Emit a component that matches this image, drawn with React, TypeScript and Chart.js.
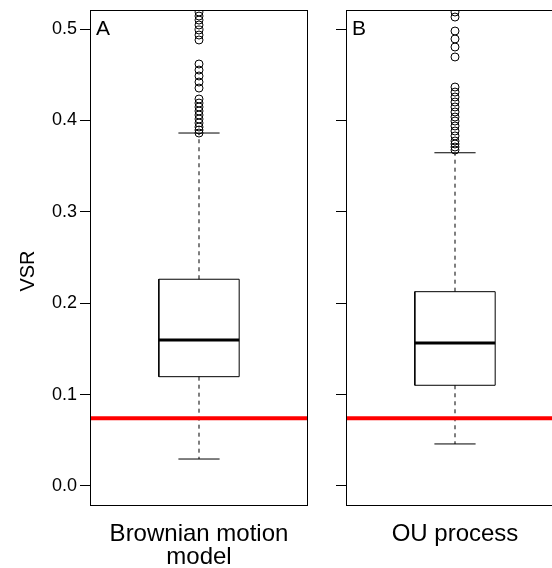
import React, { useEffect, useRef } from 'react';
import { Chart, registerables } from 'chart.js';
Chart.register(...registerables);

// ---- data ----
const panelLetters = ['A', 'B'];
const categoryLabels = [['Brownian motion', 'model'], ['OU process']];
const yAxisTitle = 'VSR';
const whiskerLow = [0.0295, 0.046];
const q1Values = [0.1196, 0.1102];
const medianValues = [0.1597, 0.1565];
const q3Values = [0.2262, 0.2126];
const whiskerHigh = [0.3862, 0.3646];
const outliersBrownian = [
  0.5186, 0.5142, 0.5098, 0.5044, 0.4989, 0.4934, 0.488,
  0.4617, 0.4551, 0.4486, 0.442, 0.4354,
  0.4234, 0.419, 0.4147, 0.4103, 0.4059, 0.4015, 0.3972, 0.3928, 0.3895, 0.3862,
];
const outliersOU = [
  0.5186, 0.5131, 0.4978, 0.4891, 0.4803, 0.4694,
  0.4365, 0.431, 0.4256, 0.4201, 0.4147, 0.4092, 0.4037, 0.3993, 0.3939, 0.3884,
  0.383, 0.3775, 0.3742, 0.3709, 0.3676,
];
const outlierSets = [outliersBrownian, outliersOU];
const referenceVSR = 0.074;
const yTicks = [0, 0.1, 0.2, 0.3, 0.4, 0.5];
const yMin = -0.0219;
const yMax = 0.5208;

// ---- style constants ----
const FONT = "'Liberation Sans', Arial, Helvetica, sans-serif";
const CENTER = 0.5;
const BOX_HALF = 0.1843;
const CAP_HALF = 0.0945;
const CANVAS_W = 313;

const zeroPadding = (s: any) => {
  s.paddingTop = 0;
  s.paddingBottom = 0;
  s.paddingLeft = 0;
  s.paddingRight = 0;
};

function buildConfig(idx: number): any {
  const q1 = q1Values[idx];
  const q3 = q3Values[idx];
  const med = medianValues[idx];
  const lo = whiskerLow[idx];
  const hi = whiskerHigh[idx];
  const line = (data: any[], extra: any = {}) => ({
    type: 'line',
    data,
    showLine: true,
    pointRadius: 0,
    borderColor: '#000',
    borderWidth: 1,
    fill: false,
    ...extra,
  });
  const datasets = [
    line(
      [
        { x: 0, y: referenceVSR },
        { x: 1, y: referenceVSR },
      ],
      { borderColor: '#ff0000', borderWidth: 4 }
    ),
    {
      type: 'scatter',
      data: outlierSets[idx].map((v) => ({ x: CENTER, y: v })),
      pointRadius: 4,
      pointStyle: 'circle',
      borderColor: '#000',
      borderWidth: 1,
      backgroundColor: 'rgba(0,0,0,0)',
      showLine: false,
    },
    line(
      [
        { x: CENTER - BOX_HALF, y: med },
        { x: CENTER + BOX_HALF, y: med },
      ],
      { borderWidth: 3 }
    ),
    line([
      { x: CENTER - BOX_HALF, y: q1 },
      { x: CENTER + BOX_HALF, y: q1 },
      { x: CENTER + BOX_HALF, y: q3 },
      { x: CENTER - BOX_HALF, y: q3 },
      { x: CENTER - BOX_HALF, y: q1 },
    ]),
    line(
      [
        { x: CENTER, y: q3 },
        { x: CENTER, y: hi },
      ],
      { borderDash: [4, 4] }
    ),
    line(
      [
        { x: CENTER, y: q1 },
        { x: CENTER, y: lo },
      ],
      { borderDash: [4, 4] }
    ),
    line([
      { x: CENTER - CAP_HALF, y: hi },
      { x: CENTER + CAP_HALF, y: hi },
    ]),
    line([
      { x: CENTER - CAP_HALF, y: lo },
      { x: CENTER + CAP_HALF, y: lo },
    ]),
  ];

  const framePlugin = {
    id: 'frame' + idx,
    afterDraw(chart: any) {
      const { ctx, chartArea } = chart;
      const { left, top, right, bottom } = chartArea;
      ctx.save();
      ctx.strokeStyle = '#000';
      ctx.lineWidth = 1;
      ctx.strokeRect(left + 0.5, top + 0.5, right - left - 1, bottom - top - 1);
      ctx.fillStyle = '#000';
      ctx.font = `21px ${FONT}`;
      ctx.textBaseline = 'top';
      ctx.textAlign = 'left';
      ctx.fillText(panelLetters[idx], left + 6, top + 9);
      if (idx === 0) {
        ctx.translate(28, 271);
        ctx.rotate(-Math.PI / 2);
        ctx.font = `20px ${FONT}`;
        ctx.textAlign = 'center';
        ctx.textBaseline = 'middle';
        ctx.fillText(yAxisTitle, 0, 0);
      }
      ctx.restore();
    },
  };

  return {
    type: 'scatter',
    data: { datasets },
    plugins: [framePlugin],
    options: {
      responsive: false,
      animation: false,
      devicePixelRatio: 1,
      layout: { padding: { top: 10, right: 3, left: 0, bottom: 0 } },
      plugins: { legend: { display: false }, tooltip: { enabled: false } },
      scales: {
        x: {
          type: 'linear',
          min: 0,
          max: 1,
          afterBuildTicks: (s: any) => {
            s.ticks = [{ value: CENTER }];
          },
          afterFit: (s: any) => {
            s.height = 62;
            zeroPadding(s);
          },
          grid: { display: false, drawTicks: false },
          border: { display: false },
          ticks: {
            autoSkip: false,
            maxRotation: 0,
            minRotation: 0,
            padding: 17,
            color: '#000',
            font: { family: FONT, size: 24, lineHeight: 0.95 },
            callback: () => categoryLabels[idx],
          },
        },
        y: {
          type: 'linear',
          min: yMin,
          max: yMax,
          afterBuildTicks: (s: any) => {
            s.ticks = yTicks.map((v) => ({ value: v }));
          },
          afterFit: (s: any) => {
            s.width = 90;
            zeroPadding(s);
          },
          grid: {
            display: true,
            drawOnChartArea: false,
            drawTicks: true,
            tickLength: 10,
            tickColor: '#000',
            color: '#000',
          },
          border: { display: false },
          ticks: {
            padding: 3,
            color: '#000',
            font: { family: FONT, size: 18 },
            callback: (v: any) => (idx === 0 ? Number(v).toFixed(1) : ''),
          },
        },
      },
    },
  };
}

function Panel({ idx, left }: { idx: number; left: number }) {
  const ref = useRef<HTMLCanvasElement | null>(null);
  useEffect(() => {
    if (!ref.current) return;
    const chart = new Chart(ref.current, buildConfig(idx));
    return () => chart.destroy();
  }, [idx]);
  return (
    <canvas
      ref={ref}
      width={CANVAS_W}
      height={568}
      style={{ position: 'absolute', left, top: 0, width: CANVAS_W, height: 568 }}
    />
  );
}

export default function App() {
  return (
    <div
      style={{
        position: 'fixed',
        left: 0,
        top: 0,
        width: 552,
        height: 568,
        overflow: 'hidden',
        background: '#fff',
      }}
    >
      <Panel idx={0} left={0} />
      <Panel idx={1} left={256} />
    </div>
  );
}
